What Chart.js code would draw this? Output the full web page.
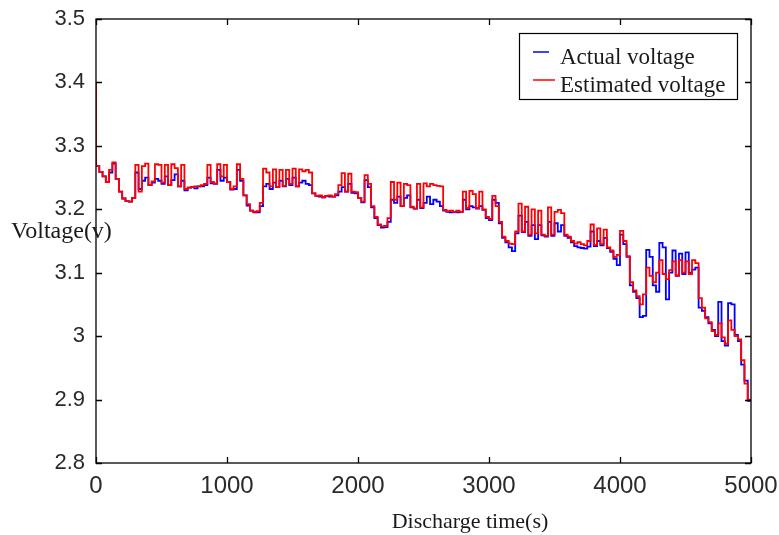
<!DOCTYPE html>
<html>
<head>
<meta charset="utf-8">
<script src="https://cdn.jsdelivr.net/npm/chart.js@4.4.1/dist/chart.umd.min.js"></script>
<style>
  html, body { margin: 0; padding: 0; background: #fff; }
  #wrap { width: 779px; height: 535px; position: relative; }
</style>
</head>
<body>
<div id="wrap"><canvas id="ctx"></canvas></div>
<script>
// discharge time (s), one sample every 25 s
const timeS = [
  0, 25, 50, 75, 100, 125, 150, 175, 200, 225,
  250, 275, 300, 325, 350, 375, 400, 425, 450, 475,
  500, 525, 550, 575, 600, 625, 650, 675, 700, 725,
  750, 775, 800, 825, 850, 875, 900, 925, 950, 975,
  1000, 1025, 1050, 1075, 1100, 1125, 1150, 1175, 1200, 1225,
  1250, 1275, 1300, 1325, 1350, 1375, 1400, 1425, 1450, 1475,
  1500, 1525, 1550, 1575, 1600, 1625, 1650, 1675, 1700, 1725,
  1750, 1775, 1800, 1825, 1850, 1875, 1900, 1925, 1950, 1975,
  2000, 2025, 2050, 2075, 2100, 2125, 2150, 2175, 2200, 2225,
  2250, 2275, 2300, 2325, 2350, 2375, 2400, 2425, 2450, 2475,
  2500, 2525, 2550, 2575, 2600, 2625, 2650, 2675, 2700, 2725,
  2750, 2775, 2800, 2825, 2850, 2875, 2900, 2925, 2950, 2975,
  3000, 3025, 3050, 3075, 3100, 3125, 3150, 3175, 3200, 3225,
  3250, 3275, 3300, 3325, 3350, 3375, 3400, 3425, 3450, 3475,
  3500, 3525, 3550, 3575, 3600, 3625, 3650, 3675, 3700, 3725,
  3750, 3775, 3800, 3825, 3850, 3875, 3900, 3925, 3950, 3975,
  4000, 4025, 4050, 4075, 4100, 4125, 4150, 4175, 4200, 4225,
  4250, 4275, 4300, 4325, 4350, 4375, 4400, 4425, 4450, 4475,
  4500, 4525, 4550, 4575, 4600, 4625, 4650, 4675, 4700, 4725,
  4750, 4775, 4800, 4825, 4850, 4875, 4900, 4925, 4950, 4975,
  5000
];

const actualV = [
  3.275, 3.268, 3.259, 3.252, 3.243, 3.258, 3.272, 3.248, 3.228, 3.217,
  3.213, 3.212, 3.218, 3.258, 3.232, 3.245, 3.250, 3.238, 3.242, 3.248,
  3.245, 3.240, 3.252, 3.238, 3.246, 3.255, 3.236, 3.245, 3.230, 3.234,
  3.235, 3.233, 3.236, 3.236, 3.238, 3.250, 3.241, 3.240, 3.262, 3.245,
  3.250, 3.243, 3.231, 3.232, 3.262, 3.245, 3.222, 3.206, 3.198, 3.196,
  3.195, 3.205, 3.236, 3.240, 3.232, 3.242, 3.235, 3.245, 3.236, 3.248,
  3.238, 3.250, 3.236, 3.242, 3.245, 3.240, 3.238, 3.225, 3.221, 3.220,
  3.219, 3.221, 3.220, 3.220, 3.222, 3.228, 3.235, 3.228, 3.240, 3.226,
  3.225, 3.218, 3.211, 3.246, 3.235, 3.203, 3.186, 3.175, 3.171, 3.172,
  3.180, 3.215, 3.210, 3.220, 3.205, 3.218, 3.222, 3.203, 3.201, 3.215,
  3.202, 3.210, 3.220, 3.208, 3.215, 3.212, 3.205, 3.198, 3.196, 3.195,
  3.196, 3.195, 3.196, 3.215, 3.200, 3.205, 3.203, 3.201, 3.205, 3.199,
  3.186, 3.183, 3.215, 3.210, 3.178, 3.155, 3.148, 3.140, 3.134, 3.162,
  3.190, 3.164, 3.180, 3.158, 3.175, 3.153, 3.175, 3.159, 3.157, 3.180,
  3.158, 3.178, 3.165, 3.175, 3.158, 3.155, 3.148, 3.142, 3.140, 3.139,
  3.138, 3.141, 3.165, 3.142, 3.150, 3.143, 3.155, 3.139, 3.133, 3.122,
  3.112, 3.160, 3.145, 3.125, 3.080, 3.070, 3.060, 3.030, 3.032, 3.136,
  3.125, 3.080, 3.070, 3.147, 3.140, 3.058, 3.100, 3.135, 3.095, 3.130,
  3.098, 3.132, 3.100, 3.105, 3.108, 3.045, 3.040, 3.030, 3.020, 3.010,
  3.000, 3.054, 2.992, 2.985, 3.052, 3.050, 3.002, 2.992, 2.955, 2.930,
  2.898
];

const estimatedV = [
  3.400, 3.268, 3.259, 3.252, 3.243, 3.262, 3.274, 3.248, 3.228, 3.217,
  3.213, 3.212, 3.218, 3.270, 3.228, 3.268, 3.272, 3.238, 3.244, 3.271,
  3.270, 3.242, 3.270, 3.238, 3.271, 3.265, 3.236, 3.270, 3.232, 3.234,
  3.235, 3.236, 3.236, 3.238, 3.240, 3.270, 3.243, 3.241, 3.271, 3.252,
  3.270, 3.243, 3.232, 3.236, 3.271, 3.248, 3.222, 3.208, 3.198, 3.195,
  3.197, 3.210, 3.264, 3.258, 3.236, 3.263, 3.235, 3.262, 3.237, 3.262,
  3.240, 3.264, 3.236, 3.263, 3.260, 3.262, 3.258, 3.225, 3.221, 3.222,
  3.219, 3.221, 3.222, 3.220, 3.224, 3.238, 3.257, 3.228, 3.256, 3.228,
  3.227, 3.218, 3.212, 3.254, 3.240, 3.205, 3.188, 3.176, 3.173, 3.174,
  3.186, 3.243, 3.215, 3.242, 3.205, 3.240, 3.238, 3.204, 3.201, 3.240,
  3.203, 3.241, 3.236, 3.240, 3.238, 3.237, 3.236, 3.199, 3.197, 3.198,
  3.196, 3.198, 3.196, 3.228, 3.202, 3.229, 3.224, 3.202, 3.228, 3.200,
  3.188, 3.185, 3.221, 3.205, 3.180, 3.157, 3.150, 3.146, 3.145, 3.165,
  3.209, 3.165, 3.204, 3.160, 3.200, 3.162, 3.198, 3.160, 3.158, 3.203,
  3.160, 3.196, 3.199, 3.194, 3.160, 3.157, 3.150, 3.146, 3.148, 3.145,
  3.143, 3.150, 3.176, 3.144, 3.170, 3.145, 3.168, 3.140, 3.135, 3.125,
  3.128, 3.166, 3.150, 3.126, 3.085, 3.072, 3.063, 3.050, 3.066, 3.108,
  3.095, 3.085, 3.100, 3.120, 3.098, 3.090, 3.104, 3.118, 3.096, 3.120,
  3.100, 3.118, 3.098, 3.120, 3.115, 3.060, 3.045, 3.028, 3.022, 3.008,
  3.002, 3.020, 2.998, 2.988, 3.025, 3.010, 3.000, 2.995, 2.962, 2.925,
  2.900
];

const xTicks = [0, 1000, 2000, 3000, 4000, 5000];
const yTicks = [2.8, 2.9, 3.0, 3.1, 3.2, 3.3, 3.4, 3.5];
const seriesNames = ["Actual voltage", "Estimated voltage"];
const seriesColors = ["#0000ff", "#ff0000"];
const xTitle = "Discharge time(s)";
const yTitle = "Voltage(v)";

function toPoints(vals) {
  return timeS.map((t, i) => ({ x: t, y: vals[i] }));
}

// matlab style box with inward ticks, boxed legend and axis titles
const matlabFrame = {
  id: "matlabFrame",
  afterDraw(chart) {
    const c = chart.ctx;
    const a = chart.chartArea;
    const xs = chart.scales.x;
    const ys = chart.scales.y;
    c.save();
    c.strokeStyle = "#000";
    c.lineWidth = 1.3;
    c.strokeRect(a.left, a.top, a.right - a.left, a.bottom - a.top);
    c.beginPath();
    for (let i = 0; i < xTicks.length; i++) {
      const px = Math.round(xs.getPixelForValue(xTicks[i])) + 0.5;
      c.moveTo(px, a.bottom); c.lineTo(px, a.bottom - 6);
      c.moveTo(px, a.top); c.lineTo(px, a.top + 6);
    }
    for (let i = 0; i < yTicks.length; i++) {
      const py = Math.round(ys.getPixelForValue(yTicks[i])) + 0.5;
      c.moveTo(a.left, py); c.lineTo(a.left + 6, py);
      c.moveTo(a.right, py); c.lineTo(a.right - 6, py);
    }
    c.stroke();

    // legend
    const lx = 519, ly = 33, lw = 218, lh = 66;
    c.fillStyle = "#fff";
    c.fillRect(lx, ly, lw, lh);
    c.strokeStyle = "#000";
    c.lineWidth = 1.2;
    c.strokeRect(lx + 0.5, ly + 0.5, lw, lh);
    c.font = "23px 'Liberation Serif', 'Times New Roman', serif";
    c.textBaseline = "alphabetic";
    c.textAlign = "left";
    const rows = [52, 80];
    for (let i = 0; i < seriesNames.length; i++) {
      c.strokeStyle = seriesColors[i];
      c.lineWidth = 1.5;
      c.beginPath();
      c.moveTo(533, rows[i]); c.lineTo(i === 0 ? 549 : 555, rows[i]);
      c.stroke();
      c.fillStyle = "#1a1a1a";
      c.fillText(seriesNames[i], 560, rows[i] + 12);
    }

    // axis titles
    c.fillStyle = "#1a1a1a";
    c.font = "24px 'Liberation Serif', 'Times New Roman', serif";
    c.textBaseline = "middle";
    c.fillText(yTitle, 11, 232);
    c.font = "22px 'Liberation Serif', 'Times New Roman', serif";
    c.textAlign = "center";
    c.fillText(xTitle, 470, 522);
    c.restore();
  }
};

new Chart(document.getElementById("ctx"), {
  type: "line",
  data: {
    datasets: [
      {
        label: seriesNames[0],
        data: toPoints(actualV),
        borderColor: seriesColors[0],
        borderWidth: 1.8,
        pointRadius: 0,
        stepped: "after",
        order: 2,
      },
      {
        label: seriesNames[1],
        data: toPoints(estimatedV),
        borderColor: seriesColors[1],
        borderWidth: 1.8,
        pointRadius: 0,
        stepped: "after",
        order: 1,
      },
    ],
  },
  options: {
    responsive: true,
    maintainAspectRatio: false,
    animation: false,
    layout: { padding: { left: 0, right: 28, top: 19, bottom: 0 } },
    plugins: {
      legend: { display: false },
      tooltip: { enabled: false },
    },
    scales: {
      x: {
        type: "linear",
        min: 0,
        max: 5000,
        grid: { display: false, drawTicks: false },
        border: { display: false },
        afterBuildTicks: (s) => { s.ticks = xTicks.map((v) => ({ value: v })); },
        afterFit: (s) => { s.height = 72; s.paddingLeft = 0; s.paddingRight = 0; },
        ticks: {
          color: "#2a2a2a",
          padding: 9,
          maxRotation: 0,
          callback: (v) => String(v),
          font: { family: "'Liberation Sans', Arial, sans-serif", size: 24 },
        },
      },
      y: {
        type: "linear",
        min: 2.8,
        max: 3.5,
        grid: { display: false, drawTicks: false },
        border: { display: false },
        afterBuildTicks: (s) => { s.ticks = yTicks.map((v) => ({ value: v })); },
        afterFit: (s) => { s.width = 96; s.paddingTop = 0; s.paddingBottom = 0; },
        ticks: {
          color: "#2a2a2a",
          padding: 11,
          callback: (v) => String(Math.round(v * 10) / 10),
          font: { family: "'Liberation Sans', Arial, sans-serif", size: 22 },
        },
      },
    },
  },
  plugins: [matlabFrame],
});
</script>
</body>
</html>
